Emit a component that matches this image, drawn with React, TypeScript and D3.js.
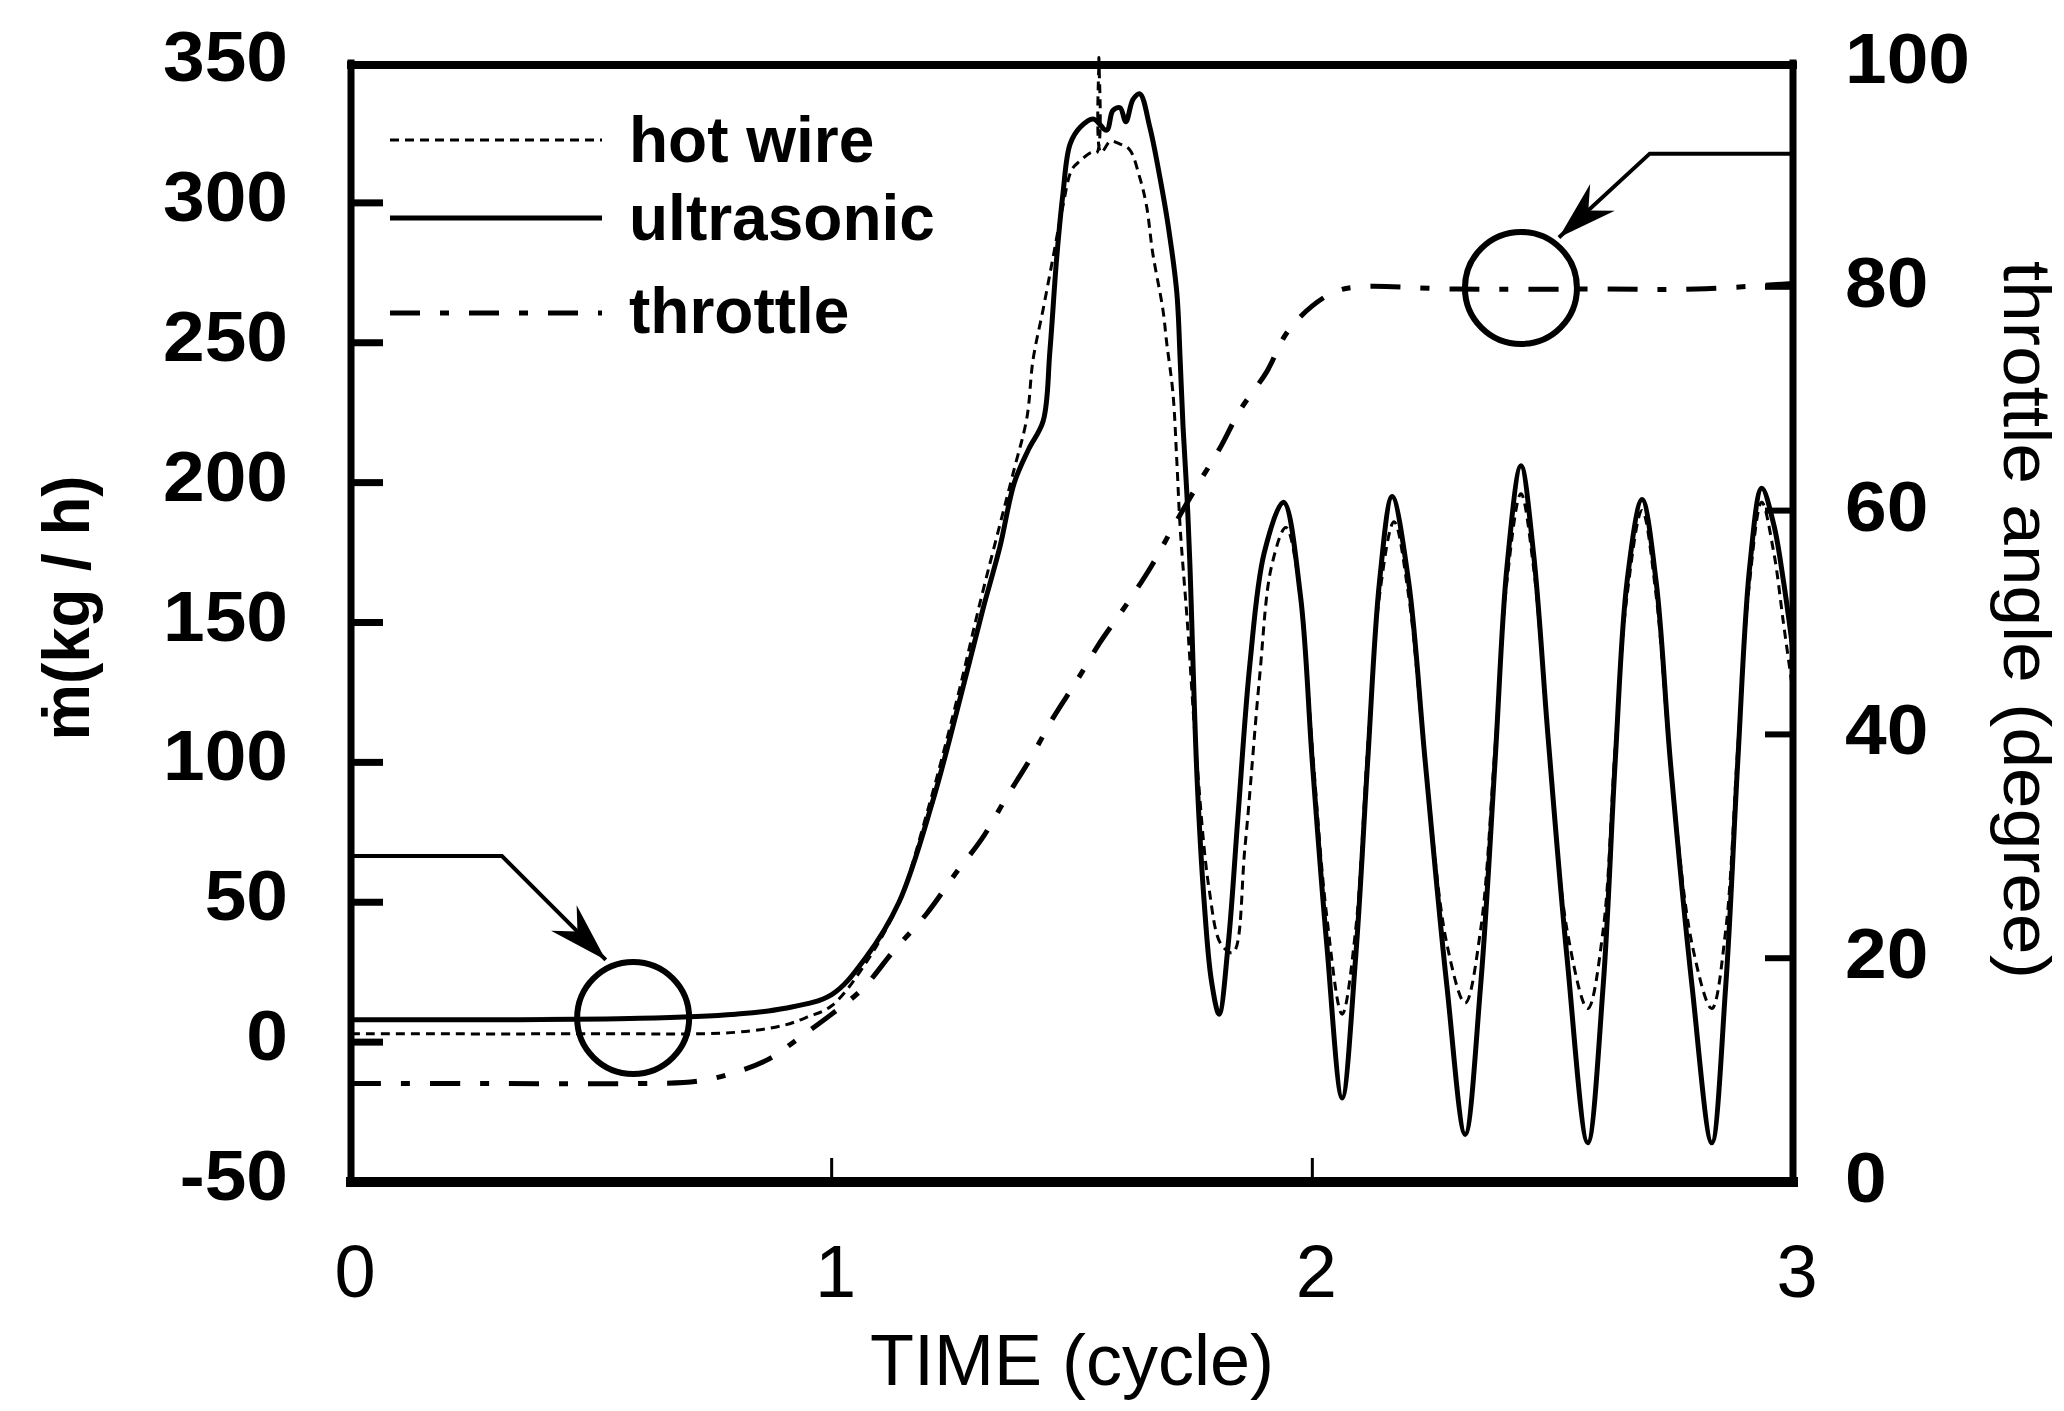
import * as d3 from "d3";

const W = 2064;
const H = 1411;

// [time (cycle), mass flow (kg/h)]
const ULTRASONIC: [number, number][] = [
  [0, 8], [0.3, 8], [0.6, 8.5], [0.8, 10], [0.9, 12], [1.0, 17], [1.07, 30],
  [1.14, 50], [1.21, 86], [1.26, 118], [1.315, 155], [1.35, 177], [1.38, 200],
  [1.41, 212], [1.44, 222], [1.454, 247], [1.468, 280], [1.481, 303], [1.496, 321],
  [1.517, 327], [1.544, 330], [1.572, 326], [1.585, 333], [1.6, 334], [1.612, 329],
  [1.627, 337], [1.641, 339], [1.662, 327], [1.683, 309], [1.7, 292], [1.718, 268],
  [1.725, 244], [1.731, 220], [1.739, 196], [1.745, 172], [1.76, 95], [1.775, 50],
  [1.79, 22], [1.806, 10], [1.825, 35], [1.845, 80], [1.87, 135], [1.9, 175],
  [1.94, 193], [1.975, 160], [2.0, 100], [2.03, 35], [2.062, -20], [2.09, 30],
  [2.115, 100], [2.14, 165], [2.166, 195], [2.2, 165], [2.235, 100], [2.28, 20],
  [2.318, -33], [2.35, 20], [2.38, 100], [2.405, 170], [2.434, 206], [2.46, 175],
  [2.49, 110], [2.53, 30], [2.573, -36], [2.605, 20], [2.63, 100], [2.655, 165],
  [2.686, 194], [2.715, 165], [2.745, 100], [2.79, 20], [2.831, -36], [2.86, 20],
  [2.885, 100], [2.91, 170], [2.935, 198], [2.96, 185], [2.98, 165], [3.0, 140],
];

const HOT_WIRE: [number, number][] = [
  [0, 3], [0.5, 3], [0.8, 3.5], [0.9, 6], [0.95, 9], [1.0, 13], [1.07, 28],
  [1.14, 50], [1.2, 83], [1.26, 122], [1.31, 158], [1.35, 185], [1.38, 205],
  [1.406, 223], [1.419, 244], [1.44, 262], [1.46, 280], [1.48, 298], [1.5, 312],
  [1.517, 315], [1.54, 318], [1.552, 318], [1.556, 352], [1.56, 318], [1.58, 322],
  [1.6, 321], [1.62, 319], [1.641, 309], [1.655, 299], [1.668, 282], [1.689, 262],
  [1.697, 250], [1.71, 232], [1.718, 208], [1.725, 184], [1.74, 150], [1.76, 100],
  [1.785, 55], [1.81, 35], [1.835, 32], [1.86, 70], [1.89, 130], [1.915, 170],
  [1.945, 184], [1.975, 160], [2.0, 105], [2.03, 45], [2.062, 10], [2.09, 40],
  [2.115, 105], [2.14, 160], [2.17, 186], [2.2, 160], [2.235, 100], [2.28, 35],
  [2.318, 14], [2.35, 40], [2.38, 105], [2.405, 165], [2.434, 196], [2.46, 170],
  [2.49, 110], [2.53, 40], [2.573, 12], [2.605, 40], [2.63, 105], [2.655, 160],
  [2.686, 190], [2.715, 160], [2.745, 100], [2.79, 35], [2.831, 12], [2.86, 40],
  [2.885, 105], [2.91, 165], [2.935, 193], [2.96, 175], [2.98, 150], [3.0, 125],
];

// [time (cycle), throttle angle (degree)]
const THROTTLE: [number, number][] = [
  [0, 8.8], [0.3, 8.8], [0.6, 8.8], [0.72, 9.0], [0.8, 9.8], [0.87, 11],
  [0.93, 12.8], [1.0, 15], [1.065, 17.3], [1.128, 20.6], [1.198, 24], [1.26, 27.7],
  [1.313, 30.7], [1.364, 34.4], [1.413, 37.8], [1.461, 41.5], [1.51, 44.8],
  [1.558, 48.2], [1.61, 51.4], [1.666, 55.1], [1.71, 58.5], [1.76, 62.2],
  [1.808, 65.6], [1.85, 69], [1.905, 72.4], [1.947, 75.9], [2.0, 78.3],
  [2.05, 79.6], [2.1, 80], [2.3, 79.8], [2.6, 79.8], [2.8, 79.8], [3.0, 80.3],
];

const X_TICKS = [0, 1, 2, 3];
const LEFT_TICKS = [-50, 0, 50, 100, 150, 200, 250, 300, 350];
const RIGHT_TICKS = [0, 20, 40, 60, 80, 100];
const LEGEND = ["hot wire", "ultrasonic", "throttle"];

// circled regions and the arrows pointing at them, in data units
const CIRCLES: { t: number; v: number; axis: "left" | "right" }[] = [
  { t: 0.587, v: 8.6, axis: "left" },
  { t: 2.434, v: 79.9, axis: "right" },
];
const ARROWS: { axis: "left" | "right"; pts: [number, number][] }[] = [
  { axis: "left", pts: [[0, 66.5], [0.314, 66.5], [0.53, 29.4]] },
  { axis: "right", pts: [[3, 91.9], [2.702, 91.9], [2.513, 84.4]] },
];

const FONT = "'Liberation Sans', Arial, Helvetica, sans-serif";
const DASH_HOT = "9,6";
const DASH_THR = "30,20,9,20";

export default function App() {
  const x = d3.scaleLinear().domain([0, 3]).range([351, 1793]);
  const yL = d3.scaleLinear().domain([-50, 350]).range([1182, 63]);
  const yR = d3.scaleLinear().domain([0, 100]).range([1182, 63]);

  const [x0, x1] = x.range();
  const y0 = yL(-50);
  const yTop = yL(350);

  const lineL = d3
    .line<[number, number]>()
    .x((d) => x(d[0]))
    .y((d) => yL(d[1]))
    .curve(d3.curveCatmullRom.alpha(0.5));
  const lineR = d3
    .line<[number, number]>()
    .x((d) => x(d[0]))
    .y((d) => yR(d[1]))
    .curve(d3.curveCatmullRom.alpha(0.5));

  const legendY = [140, 218, 313];
  const legendStyle = [
    { dash: DASH_HOT, w: 3 },
    { dash: undefined, w: 5 },
    { dash: DASH_THR, w: 5 },
  ];

  return (
    <svg
      width={W}
      height={H}
      style={{ position: "absolute", left: 0, top: 0, background: "#fff" }}
      fontFamily={FONT}
    >
      <defs>
        <clipPath id="plot">
          <rect x={x0} y={yTop - 20} width={x1 - x0} height={y0 - yTop + 20} />
        </clipPath>
      </defs>

      {/* traces */}
      <g clipPath="url(#plot)" fill="none" stroke="#000" strokeLinejoin="round">
        <path d={lineR(THROTTLE) ?? ""} strokeWidth={5} strokeDasharray={DASH_THR} />
        <path d={lineL(HOT_WIRE) ?? ""} strokeWidth={3} strokeDasharray={DASH_HOT} />
        <path d={lineL(ULTRASONIC) ?? ""} strokeWidth={5} />
      </g>

      {/* frame */}
      <g stroke="#000" strokeLinecap="square">
        <line x1={x0} x2={x1} y1={yTop + 2} y2={yTop + 2} strokeWidth={8} />
        <line x1={x0} x2={x1} y1={y0} y2={y0} strokeWidth={10} />
        <line x1={x0} x2={x0} y1={yTop} y2={y0} strokeWidth={7} />
        <line x1={x1} x2={x1} y1={yTop} y2={y0} strokeWidth={7} />
      </g>

      {/* ticks */}
      <g stroke="#000">
        {LEFT_TICKS.filter((v) => v > -50 && v < 350).map((v) => (
          <line key={`lt${v}`} x1={x0} x2={x0 + 32} y1={yL(v)} y2={yL(v)} strokeWidth={7} />
        ))}
        {RIGHT_TICKS.filter((v) => v > 0 && v < 100).map((v) => (
          <line key={`rt${v}`} x1={x1 - 28} x2={x1} y1={yR(v)} y2={yR(v)} strokeWidth={6} />
        ))}
        {X_TICKS.filter((v) => v > 0 && v < 3).map((v) => (
          <line key={`xt${v}`} x1={x(v)} x2={x(v)} y1={y0} y2={y0 - 24} strokeWidth={3} />
        ))}
      </g>

      {/* tick labels */}
      <g fontWeight="bold" fontSize={70} fill="#000">
        {LEFT_TICKS.map((v) => (
          <text
            key={`ll${v}`}
            transform={`translate(288,${yL(v) + 18}) scale(1.07,1)`}
            textAnchor="end"
          >
            {v}
          </text>
        ))}
        {RIGHT_TICKS.map((v) => (
          <text
            key={`rl${v}`}
            transform={`translate(1845,${yR(v) + 20}) scale(1.07,1)`}
            textAnchor="start"
          >
            {v}
          </text>
        ))}
      </g>
      <g fontSize={74} fill="#000" textAnchor="middle">
        {X_TICKS.map((v) => (
          <text key={`xl${v}`} x={x(v) + 4} y={1297}>
            {v}
          </text>
        ))}
      </g>

      {/* axis titles */}
      <text x={(x0 + x1) / 2} y={1385} fontSize={72} textAnchor="middle">
        TIME (cycle)
      </text>
      <text
        transform="translate(89,608) rotate(-90)"
        fontSize={66}
        fontWeight="bold"
        textAnchor="middle"
        textLength={265}
        lengthAdjust="spacingAndGlyphs"
      >
        ṁ(kg / h)
      </text>
      <text
        transform="translate(2004,620) rotate(90)"
        fontSize={66}
        textAnchor="middle"
        textLength={718}
        lengthAdjust="spacingAndGlyphs"
      >
        throttle angle (degree)
      </text>

      {/* legend */}
      {LEGEND.map((name, i) => (
        <g key={name}>
          <line
            x1={390}
            x2={602}
            y1={legendY[i]}
            y2={legendY[i]}
            stroke="#000"
            strokeWidth={legendStyle[i].w}
            strokeDasharray={legendStyle[i].dash}
          />
          <text x={629} y={legendY[i] + 22 + (i === 2 ? -2 : 0)} fontSize={64} fontWeight="bold">
            {name}
          </text>
        </g>
      ))}

      {/* circled regions with arrows */}
      {CIRCLES.map((c, i) => (
        <circle
          key={`c${i}`}
          cx={x(c.t)}
          cy={c.axis === "left" ? yL(c.v) : yR(c.v)}
          r={56}
          fill="none"
          stroke="#000"
          strokeWidth={6}
        />
      ))}
      {ARROWS.map((a, i) => {
        const y = a.axis === "left" ? yL : yR;
        const pts = a.pts.map(([t, v]) => [x(t), y(v)] as [number, number]);
        const [tx, ty] = pts[pts.length - 1];
        const [px, py] = pts[pts.length - 2];
        const ang = Math.atan2(py - ty, px - tx);
        const spread = (17 * Math.PI) / 180;
        const len = 62;
        const b1 = [tx + len * Math.cos(ang + spread), ty + len * Math.sin(ang + spread)];
        const b2 = [tx + len * Math.cos(ang - spread), ty + len * Math.sin(ang - spread)];
        const notch = [tx + 40 * Math.cos(ang), ty + 40 * Math.sin(ang)];
        return (
          <g key={`a${i}`}>
            <path d={d3.line()(pts) ?? ""} fill="none" stroke="#000" strokeWidth={4} />
            <polygon
              points={[[tx, ty], b1, notch, b2].map((p) => p.join(",")).join(" ")}
              fill="#000"
            />
          </g>
        );
      })}
    </svg>
  );
}
